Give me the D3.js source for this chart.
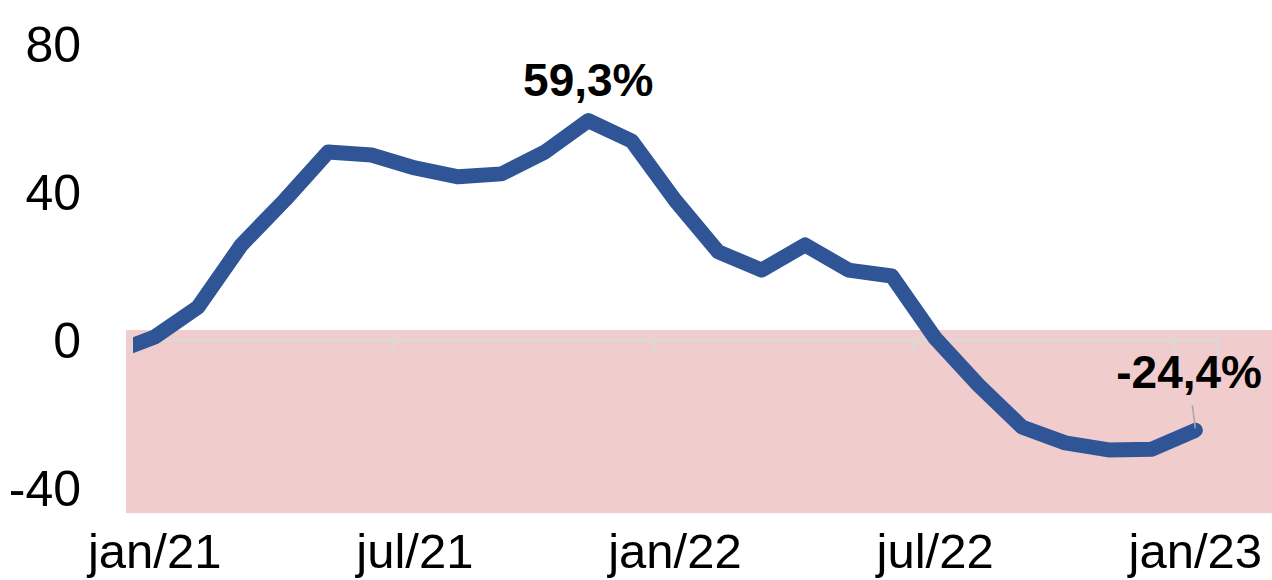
<!DOCTYPE html>
<html>
<head>
<meta charset="utf-8">
<script src="https://cdn.jsdelivr.net/npm/d3@7"></script>
<style>
  html, body { margin: 0; padding: 0; background: #fff; }
  svg { display: block; }
</style>
</head>
<body>
<svg id="chart" width="1272" height="580"></svg>
<script>
// ---- data ----
const months = ["dez/20","jan/21","fev/21","mar/21","abr/21","mai/21","jun/21","jul/21","ago/21","set/21","out/21","nov/21","dez/21",
  "jan/22","fev/22","mar/22","abr/22","mai/22","jun/22","jul/22","ago/22","set/22","out/22","nov/22","dez/22","jan/23"];
const values = [-3.6, 0.8, 8.9, 25.7, 37.8, 50.8, 50.0, 46.5, 44.1, 44.9, 50.8, 59.3, 53.8, 37.8, 23.8, 18.9, 25.7, 18.9, 17.3,
  0.5, -12.2, -23.5, -27.8, -29.7, -29.5, -24.4];
const tickLabels = ["jan/21", "jul/21", "jan/22", "jul/22", "jan/23"];
const tickIndex = [0, 6, 12, 18, 24];          // month index (jan/21 = 0)
const yTicks = [-40, 0, 40, 80];
const negBand = [-46.8, 2.7];                   // shaded negative zone (value range)
const annotations = [{ i: 11, text: "59,3%" }, { i: 25, text: "-24,4%" }];

// ---- layout ----
const svg = d3.select("#chart");
const W = 1272, H = 580;
const x = d3.scaleLinear().domain([-0.5, 24.5]).range([133, 1217]);
const y = d3.scaleLinear().domain([-40, 80]).range([488, 44]);
const idx = i => i - 1; // data index -> month index (jan/21 = 0)

// negative band
svg.append("rect")
  .attr("x", x(-0.66)).attr("width", W - x(-0.66))
  .attr("y", y(negBand[1])).attr("height", y(negBand[0]) - y(negBand[1]))
  .attr("fill", "#F0CCCD");

// x axis line at 0 with tick marks
const xAxis = d3.axisBottom(x)
  .tickValues([-0.5, 5.5, 11.5, 17.5, 23.5])
  .tickSize(15).tickFormat("");
const gx = svg.append("g").attr("transform", `translate(0,${y(0)})`).call(xAxis);
gx.select(".domain").attr("stroke", "#D9D9D9").attr("stroke-width", 2.5);
gx.selectAll(".tick line").attr("stroke", "#D9D9D9").attr("stroke-width", 2.5);

// x labels
svg.append("g").selectAll("text").data(tickLabels).join("text")
  .attr("x", (d, k) => x(tickIndex[k]))
  .attr("y", 568)
  .attr("text-anchor", "middle")
  .attr("font-family", "'Liberation Sans', Arial, sans-serif")
  .attr("font-size", 49)
  .attr("fill", "#000")
  .text(d => d);

// y labels
svg.append("g").selectAll("text").data(yTicks).join("text")
  .attr("x", 81)
  .attr("y", d => y(d) + 18)
  .attr("text-anchor", "end")
  .attr("font-family", "'Liberation Sans', Arial, sans-serif")
  .attr("font-size", 50)
  .attr("fill", "#000")
  .text(d => d);

// clip for the line
svg.append("clipPath").attr("id", "plotclip")
  .append("rect").attr("x", x(-0.5)).attr("y", 0).attr("width", W - x(-0.5)).attr("height", H);

const line = d3.line().x((d, i) => x(idx(i))).y(d => y(d));
svg.append("path")
  .datum(values)
  .attr("clip-path", "url(#plotclip)")
  .attr("d", line)
  .attr("fill", "none")
  .attr("stroke", "#2F5597")
  .attr("stroke-width", 15)
  .attr("stroke-linejoin", "round")
  .attr("stroke-linecap", "round");

// annotations
const a0 = annotations[0];
svg.append("text")
  .attr("x", x(idx(a0.i))).attr("y", 96)
  .attr("text-anchor", "middle")
  .attr("font-family", "'Liberation Sans', Arial, sans-serif")
  .attr("font-weight", "bold").attr("font-size", 46)
  .text(a0.text);

const a1 = annotations[1];
svg.append("line")
  .attr("x1", x(idx(a1.i)) - 3).attr("y1", y(values[a1.i]) - 25)
  .attr("x2", x(idx(a1.i))).attr("y2", y(values[a1.i]) - 2)
  .attr("stroke", "#A6A6A6").attr("stroke-width", 1.5);
svg.append("text")
  .attr("x", 1262).attr("y", 388)
  .attr("text-anchor", "end")
  .attr("font-family", "'Liberation Sans', Arial, sans-serif")
  .attr("font-weight", "bold").attr("font-size", 46)
  .text(a1.text);
</script>
</body>
</html>
